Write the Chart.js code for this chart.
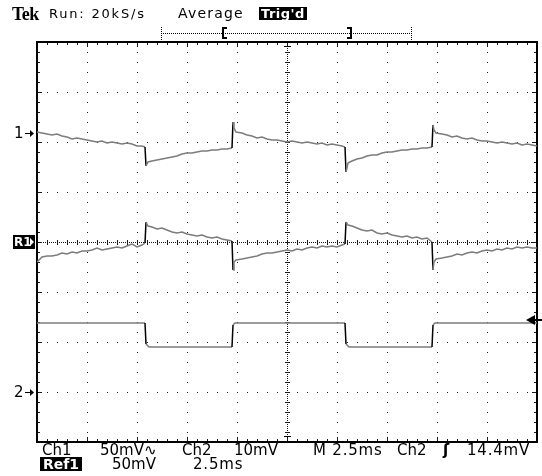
<!DOCTYPE html>
<html>
<head>
<meta charset="utf-8">
<script src="https://cdn.jsdelivr.net/npm/chart.js@4/dist/chart.umd.min.js"></script>
<style>
  body { margin: 0; background: #fff; }
  #wrap { position: relative; width: 542px; height: 476px; overflow: hidden; font-family: "DejaVu Sans", sans-serif; color: #000; }
  #wrap canvas { position: absolute; left: 0; top: 0; }
  .t { position: absolute; white-space: pre; line-height: 1; }
  .hdr { font-size: 13px; letter-spacing: 1.8px; top: 7px; }
  .r1 { font-size: 15px; top: 443px; }
  .r2 { font-size: 15px; top: 457px; }
  .inv { background: #000; color: #fff; font-weight: bold; }
</style>
</head>
<body>
<div id="wrap">
  <canvas id="scope" width="542" height="476"></canvas>
  <span class="t" style="left:12px;top:4px;font:bold 18px 'Liberation Serif',serif;letter-spacing:-0.5px;">Tek</span>
  <span class="t hdr" style="left:49px;">Run: 20kS/s</span>
  <span class="t hdr" style="left:178px;letter-spacing:1.2px;font-size:14px;top:6px;">Average</span>
  <span class="t inv" style="left:259px;top:7px;height:13px;line-height:13px;font-size:13px;padding:0 2px;letter-spacing:0.5px;">Trig'd</span>

  <span class="t r1" style="left:42px;">Ch1</span>
  <span class="t r1" style="left:100px;">50mV∿</span>
  <span class="t r1" style="left:182px;">Ch2</span>
  <span class="t r1" style="left:234px;">10mV</span>
  <span class="t r1" style="left:313px;letter-spacing:0.8px;">M 2.5ms</span>
  <span class="t r1" style="left:397px;">Ch2</span>
  <span class="t r1" style="left:443px;font-weight:bold;">ʃ</span>
  <span class="t r1" style="left:467px;letter-spacing:0.8px;">14.4mV</span>
  <span class="t inv" style="left:40px;top:457px;height:14px;line-height:14px;font-size:14px;padding:0 3px;">Ref1</span>
  <span class="t r2" style="left:112px;">50mV</span>
  <span class="t r2" style="left:193px;letter-spacing:0.8px;">2.5ms</span>
</div>
<script>
// Tiempo en ms (2.5 ms/div, 10 div). Ch1 y Ref1 a 50 mV/div, Ch2 a 10 mV/div.
const traceTime = [0, 0.25, 0.5, 0.75, 1, 1.25, 1.5, 1.75, 2, 2.25, 2.5, 2.75, 3, 3.25, 3.5, 3.75, 4, 4.25, 4.5, 4.75, 5, 5.25, 5.4,
  5.45, 5.55, 5.75, 6, 6.25, 6.5, 6.75, 7, 7.25, 7.5, 7.75, 8, 8.25, 8.5, 8.75, 9, 9.25, 9.5, 9.75,
  9.8, 9.85, 9.95,
  10.25, 10.5, 10.75, 11, 11.25, 11.5, 11.75, 12, 12.25, 12.5, 12.75, 13, 13.25, 13.5, 13.75, 14, 14.25, 14.5, 14.75, 15, 15.25, 15.4,
  15.45, 15.55, 15.75, 16, 16.25, 16.5, 16.75, 17, 17.25, 17.5, 17.75, 18, 18.25, 18.5, 18.75, 19, 19.25, 19.5, 19.75,
  19.8, 19.85, 19.95,
  20.25, 20.5, 20.75, 21, 21.25, 21.5, 21.75, 22, 22.25, 22.5, 22.75, 23, 23.25, 23.5, 23.75, 24, 24.25, 24.5, 24.75, 25];

const ch1Mv = [1, 0, -1, -2, -1, -3, -4, -6, -5, -6, -7, -8, -9, -8, -10, -9, -10, -11, -10, -11, -13, -13, -14,
  -33, -29, -28, -27, -26, -25, -24, -23, -21, -20, -20, -19, -18, -18, -17, -17, -16, -16, -15,
  11, 5, 1,
  0, -2, -3, -5, -4, -6, -7, -7, -8, -9, -8, -9, -10, -9, -10, -11, -10, -12, -11, -12, -13, -14,
  -39, -30, -28, -26, -25, -23, -22, -22, -20, -19, -19, -18, -17, -17, -16, -16, -15, -15, -14,
  8, 3, 0,
  -1, -2, -4, -3, -5, -6, -5, -7, -8, -8, -9, -10, -9, -10, -11, -10, -12, -11, -12, -13];

const ref1Mv = [-20, -15, -14, -14, -13, -11, -12, -10, -11, -9, -9, -8, -6, -8, -7, -6, -5, -6, -4, -2, -5, -3, -1,
  20, 16, 15, 13, 14, 12, 10, 9, 10, 8, 7, 6, 7, 5, 4, 5, 3, 2, 1,
  -28, -20, -18,
  -17, -16, -15, -14, -12, -11, -11, -10, -9, -8, -9, -7, -8, -6, -5, -6, -4, -5, -4, -5, -3, -2,
  20, 17, 16, 14, 12, 11, 12, 9, 8, 9, 7, 6, 5, 6, 4, 5, 3, 4, 0,
  -28, -20, -17,
  -16, -15, -14, -12, -13, -11, -10, -11, -9, -8, -9, -7, -8, -6, -7, -5, -6, -5, -6, -6];

const ch2Time = [0, 5.4, 5.45, 5.6, 9.75, 9.8, 9.9, 15.4, 15.45, 15.6, 19.75, 19.8, 19.9, 25];
const ch2Mv = [13.8, 13.8, 9.6, 9.0, 9.0, 13.4, 13.8, 13.8, 9.6, 9.0, 9.0, 13.4, 13.8, 13.8];

const trigLevelMv = 14.4;

// posiciones verticales (div) y escalas (mV/div)
const ch1Pos = 2.18, ref1Pos = 0, ch2Pos = -3;
const ch1Scale = 50, ref1Scale = 50, ch2Scale = 10;

const toPoints = (times, mv, pos, scale) => times.map((t, i) => ({ x: t, y: pos + mv[i] / scale }));

// flancos casi verticales en negro, como en la pantalla
const edgeColor = c => (Math.abs(c.p1.parsed.y - c.p0.parsed.y) > 0.2 && (c.p1.parsed.x - c.p0.parsed.x) < 0.11) ? '#000' : undefined;

const graticule = {
    id: 'graticule',
    beforeDatasetsDraw(chart) {
        const { ctx, chartArea: a, scales: { x, y } } = chart;
        ctx.save();
        ctx.fillStyle = '#1a1a1a';
        const dot = (px, py, w = 1, h = 1) => ctx.fillRect(Math.round(px), Math.round(py), w, h);

        // líneas principales punteadas
        for (let i = 1; i < 10; i++) {
            if (i === 5) continue;
            const px = x.getPixelForValue(i * 2.5);
            for (let k = 0; k <= 40; k++) dot(px, y.getPixelForValue(-4 + k * 0.2));
        }
        for (let j = -3; j <= 3; j++) {
            if (j === 0) continue;
            const py = y.getPixelForValue(j);
            for (let k = 0; k <= 50; k++) dot(x.getPixelForValue(k * 0.5), py);
        }

        // ejes centrales con marcas
        const cx = x.getPixelForValue(12.5), cy = y.getPixelForValue(0);
        for (let py = a.top; py <= a.bottom; py += 2) dot(cx, py);
        for (let px = a.left; px <= a.right; px += 2) dot(px, cy);
        for (let k = 0; k <= 40; k++) dot(cx - 2, y.getPixelForValue(-4 + k * 0.2), 5, 1);
        for (let k = 0; k <= 50; k++) dot(x.getPixelForValue(k * 0.5), cy - 2, 1, 5);

        // marcas en el borde
        for (let k = 0; k <= 50; k++) {
            const px = x.getPixelForValue(k * 0.5);
            const len = k % 5 === 0 ? 5 : 3;
            dot(px, a.top, 1, len);
            dot(px, a.bottom - len, 1, len);
        }
        for (let k = 0; k <= 40; k++) {
            const py = y.getPixelForValue(-4 + k * 0.2);
            const len = k % 5 === 0 ? 5 : 3;
            dot(a.left, py, len, 1);
            dot(a.right - len, py, len, 1);
        }

        ctx.strokeStyle = '#000';
        ctx.lineWidth = 2;
        ctx.strokeRect(a.left, a.top, a.right - a.left, a.bottom - a.top);
        ctx.restore();
    },
    afterDraw(chart) {
        const { ctx, chartArea: a, scales: { x, y } } = chart;
        ctx.save();
        ctx.fillStyle = '#000';

        const arrow = (x0, py) => {
            ctx.fillRect(x0, Math.round(py), 6, 1);
            ctx.beginPath();
            ctx.moveTo(x0 + 5, py - 3);
            ctx.lineTo(x0 + 9, py + 0.5);
            ctx.lineTo(x0 + 5, py + 4);
            ctx.closePath();
            ctx.fill();
        };

        ctx.font = '15px "DejaVu Sans", sans-serif';
        ctx.textBaseline = 'middle';
        const y1 = y.getPixelForValue(ch1Pos);
        ctx.fillText('1', 14, y1 + 1);
        arrow(25, y1);
        const y2 = y.getPixelForValue(ch2Pos);
        ctx.fillText('2', 14, y2 + 1);
        arrow(25, y2);

        // marcador Ref1
        const yr = y.getPixelForValue(ref1Pos);
        ctx.fillRect(13, yr - 7, 22, 14);
        ctx.fillStyle = '#fff';
        ctx.font = 'bold 12px "DejaVu Sans", sans-serif';
        ctx.fillText('R1', 14, yr + 1);
        ctx.beginPath();
        ctx.moveTo(30, yr - 4);
        ctx.lineTo(34, yr);
        ctx.lineTo(30, yr + 4);
        ctx.closePath();
        ctx.fill();

        // nivel de disparo
        ctx.fillStyle = '#000';
        const yt = y.getPixelForValue(ch2Pos + trigLevelMv / ch2Scale);
        ctx.beginPath();
        ctx.moveTo(a.right - 11, yt);
        ctx.lineTo(a.right - 2, yt - 5);
        ctx.lineTo(a.right - 2, yt + 5);
        ctx.closePath();
        ctx.fill();
        ctx.fillRect(a.right - 3, Math.round(yt) - 1, 8, 2);

        // posición del disparo (borde superior e inferior)
        const xt = x.getPixelForValue(12.5);
        ctx.fillRect(Math.round(xt) - 3, a.top + 4, 7, 1);
        ctx.fillRect(Math.round(xt) - 3, a.bottom - 6, 7, 1);

        // barra de registro
        const by = 33;
        for (let px = 161; px <= 411; px += 2) ctx.fillRect(px, by, 1, 1);
        for (let py = 27; py <= 39; py += 2) { ctx.fillRect(161, py, 1, 1); ctx.fillRect(411, py, 1, 1); }
        ctx.fillRect(222, 27, 2, 12); ctx.fillRect(222, 27, 5, 2); ctx.fillRect(222, 37, 5, 2);
        ctx.fillRect(350, 27, 2, 12); ctx.fillRect(347, 27, 5, 2); ctx.fillRect(347, 37, 5, 2);
        ctx.restore();
    }
};

const traceStyle = { borderColor: '#7c7c7c', borderWidth: 1.5, pointRadius: 0, tension: 0, fill: false, segment: { borderColor: edgeColor } };

new Chart(document.getElementById('scope'), {
    type: 'line',
    data: {
        datasets: [
            Object.assign({ label: 'Ch1', data: toPoints(traceTime, ch1Mv, ch1Pos, ch1Scale) }, traceStyle),
            Object.assign({ label: 'Ref1', data: toPoints(traceTime, ref1Mv, ref1Pos, ref1Scale) }, traceStyle),
            Object.assign({ label: 'Ch2', data: toPoints(ch2Time, ch2Mv, ch2Pos, ch2Scale) }, traceStyle)
        ]
    },
    options: {
        responsive: false,
        devicePixelRatio: 1,
        animation: false,
        layout: { padding: { left: 37, right: 5, top: 42, bottom: 34 } },
        plugins: { legend: { display: false }, tooltip: { enabled: false } },
        scales: {
            x: { type: 'linear', min: 0, max: 25, display: false },
            y: { type: 'linear', min: -4, max: 4, display: false }
        }
    },
    plugins: [graticule]
});
</script>
</body>
</html>
